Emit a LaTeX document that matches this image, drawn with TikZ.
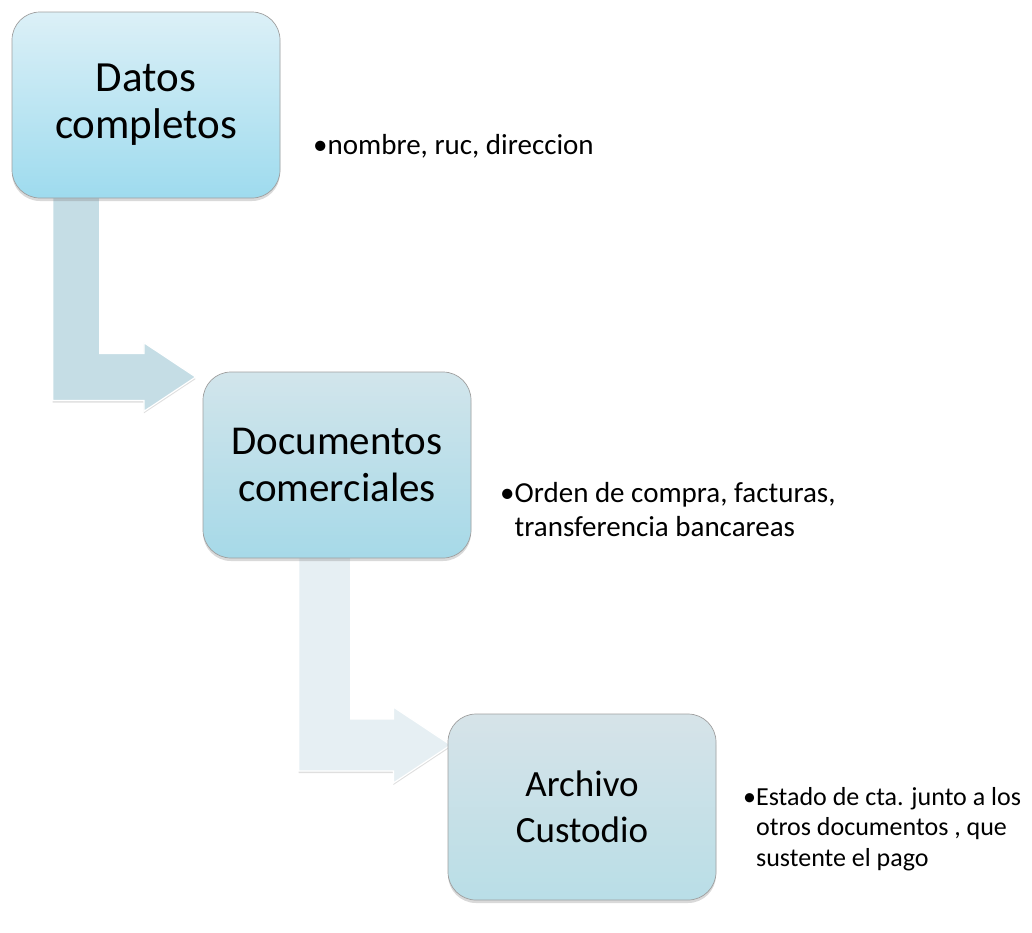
\documentclass[tikz,border=0pt]{standalone}
\usepackage{fontspec}
\setmainfont{Carlito}
\usepackage{tikz}
\usetikzlibrary{positioning,%
  calc,%
  backgrounds,%
  shadows
}

\definecolor{cajaunoarriba}{RGB}{220,240,247}
\definecolor{cajaunoabajo}{RGB}{158,219,238}
\definecolor{cajadosarriba}{RGB}{210,229,235}
\definecolor{cajadosabajo}{RGB}{166,217,232}
\definecolor{cajatresarriba}{RGB}{214,227,232}
\definecolor{cajatresabajo}{RGB}{185,222,231}
\definecolor{flechauno}{RGB}{197,221,229}
\definecolor{flechados}{RGB}{230,239,243}

\tikzset{
  caja/.style={draw=gray!75, line width=0.7pt, rounded corners=28pt,
    minimum width=268pt, minimum height=186pt, align=center,
    drop shadow={shadow xshift=0pt, shadow yshift=-3pt, opacity=0.3}},
  nota/.style={anchor=base west, inner sep=0pt},
  flecha/.style={draw=white, line width=1.2pt,
    drop shadow={shadow xshift=0pt, shadow yshift=-2pt, opacity=0.25}}
}

% flecha doblada: #1 inicio (borde izq.), #2 punta, #3 ancho, #4 color
\newcommand{\flechacodo}[4]{%
  \fill[flecha, fill=#4]
    let \p1=(#1), \p2=(#2), \n1={#3*1pt}, \n2={0.73*#3*1pt}, \n3={1.1*#3*1pt} in
    (\x1,\y1) -- (\x1,{\y2-\n1/2}) -- ({\x2-\n3},{\y2-\n1/2})
    -- ({\x2-\n3},{\y2-\n2}) -- (\x2,\y2) -- ({\x2-\n3},{\y2+\n2})
    -- ({\x2-\n3},{\y2+\n1/2}) -- ({\x1+\n1},{\y2+\n1/2})
    -- ({\x1+\n1},\y1) -- cycle;
}

\begin{document}
\begin{tikzpicture}[x=1pt,y=-1pt]
  \useasboundingbox (0,0) rectangle (1032,932);

  % cajas
  \node[caja, top color=cajaunoarriba, bottom color=cajaunoabajo,
    font=\fontsize{43}{47}\selectfont] (datos) at (146,105) {Datos\\completos};
  \node[caja, top color=cajadosarriba, bottom color=cajadosabajo,
    font=\fontsize{41}{47}\selectfont] (docs) at (337,465) {Documentos\\comerciales};
  \node[caja, top color=cajatresarriba, bottom color=cajatresabajo,
    font=\fontsize{37}{46}\selectfont] (archivo) at (582,807) {Archivo\\Custodio};

  % flechas
  \coordinate (f1ini) at ($(datos.south west)+(41,-10)$);
  \coordinate (f1fin) at ($(docs.west)+(-7,-88)$);
  \coordinate (f2ini) at ($(docs.south west)+(96,-10)$);
  \coordinate (f2fin) at ($(archivo.west)+(3,-62)$);
  \begin{scope}[on background layer]
    \flechacodo{f1ini}{f1fin}{47}{flechauno}
    \flechacodo{f2ini}{f2fin}{52}{flechados}
  \end{scope}

  % notas
  \node[nota, font=\fontsize{29}{34}\selectfont] (nota1) at (313,154)
    {\begin{tabular}[t]{@{}l@{}l@{}}•&nombre, ruc, direccion\end{tabular}};
  \node[nota, font=\fontsize{29}{34}\selectfont] (nota2) at (500,502)
    {\begin{tabular}[t]{@{}l@{}l@{}}•&Orden de compra, facturas,\\&transferencia bancareas\end{tabular}};
  \node[nota, font=\fontsize{26}{30.5}\selectfont] (nota3) at (743,805)
    {\begin{tabular}[t]{@{}l@{}l@{}}•&Estado de cta. junto a los\\&otros documentos , que\\&sustente el pago\end{tabular}};
\end{tikzpicture}
\end{document}
